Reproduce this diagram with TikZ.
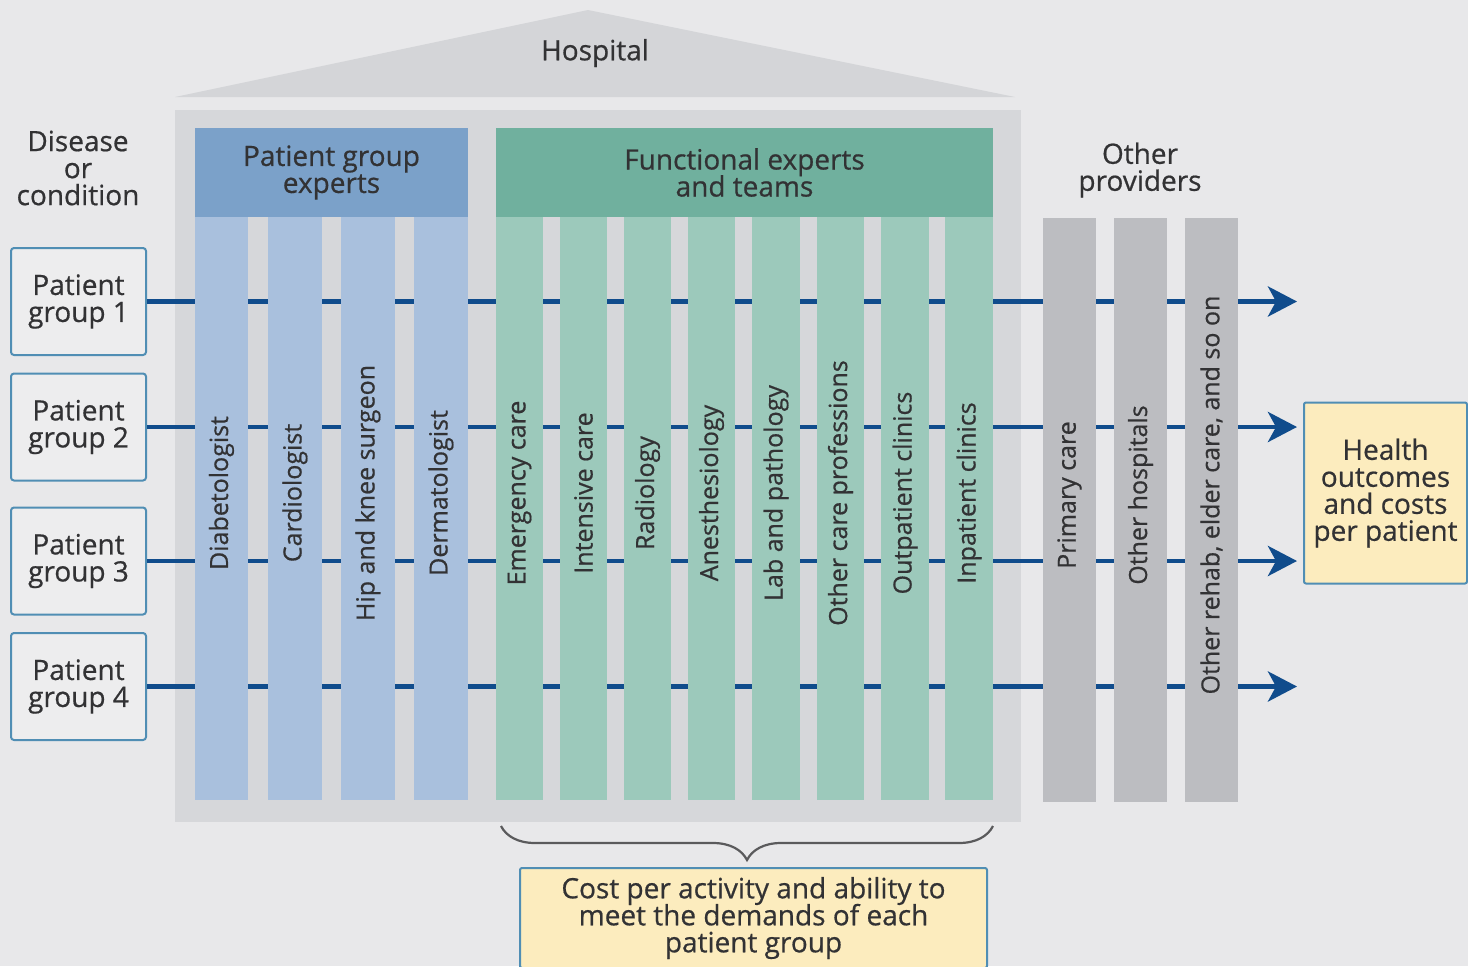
\documentclass[tikz,border=0pt]{standalone}
\usepackage{fontspec}
\setmainfont{Open Sans}[FakeBold=0.6]
\usetikzlibrary{arrows.meta,decorations.pathreplacing}

\definecolor{bgc}{RGB}{232,232,234}
\definecolor{roofc}{RGB}{212,213,216}
\definecolor{bodyc}{RGB}{214,215,218}
\definecolor{blueHead}{RGB}{123,161,201}
\definecolor{blueCol}{RGB}{169,192,221}
\definecolor{greenHead}{RGB}{112,176,158}
\definecolor{greenCol}{RGB}{156,201,187}
\definecolor{grayCol}{RGB}{188,189,193}
\definecolor{flowc}{RGB}{16,76,140}
\definecolor{boxline}{RGB}{80,142,180}
\definecolor{boxfill}{RGB}{237,237,238}
\definecolor{notefill}{RGB}{252,236,190}
\definecolor{ink}{RGB}{50,50,52}
\definecolor{bracec}{RGB}{90,90,92}

\begin{document}
\setlength{\lineskiplimit}{-20pt}
\begin{tikzpicture}[x=0.5pt,y=-0.5pt,
  every node/.style={text=ink, inner sep=0pt, align=center,
    font=\fontsize{14}{13.5}\selectfont},
  group/.style={draw=boxline, line width=1pt, fill=boxfill, rounded corners=1.5pt,
    minimum width=67.5pt, minimum height=53.5pt},
  note/.style={draw=boxline, line width=1pt, fill=notefill, rounded corners=1pt},
  header/.style={minimum height=44.5pt},
  barlabel/.style={rotate=90, font=\fontsize{12.5}{13}\selectfont},
  flow/.style={draw=flowc, line width=2.4pt,
    -{Stealth[length=14.5pt,width=15pt,inset=4pt]}},
  ]
\useasboundingbox (0,0) rectangle (1468,966);
\clip (0,0) rectangle (1468,966);
\fill[bgc] (0,0) rectangle (1468,966);

% hospital roof and body
\fill[roofc] (175,97) -- (588,10) -- (1015,97) -- cycle;
\fill[bodyc] (175,110) rectangle (1021,822);
\node (hosp) at (595,53) {Hospital};

% column group headers
\node[header, fill=blueHead, minimum width=136.5pt] (pgx) at (331.5,172.5) {Patient group\\experts};
\node[header, fill=greenHead, minimum width=248.5pt] (fx) at (744.5,172.5) {Functional experts\\and teams};
\node (others) at (1140,170) {Other\\providers};
\node (disease) at (78,168) {Disease\\or\\condition};

% patient groups
\node[group] (pg1) at (78.5,301.5) {Patient\\group 1};
\node[group] (pg2) at (78.5,427) {Patient\\group 2};
\node[group] (pg3) at (78.5,561) {Patient\\group 3};
\node[group] (pg4) at (78.5,686.5) {Patient\\group 4};

% outcome boxes
\node[note, minimum width=81.5pt, minimum height=90.5pt] (outcome) at (1385.5,493)
  {Health\\outcomes\\and costs\\per patient};
\node[note, minimum width=233.5pt, minimum height=50pt] (cost) at (753.5,918)
  {Cost per activity and ability to\\meet the demands of each\\patient group};

% patient flows (drawn beneath the columns)
\coordinate (end1) at (1297,301.5);
\coordinate (end2) at (1297,427);
\coordinate (end3) at (1297,561);
\coordinate (end4) at (1297,686.5);
\foreach \i in {1,...,4}{
  \draw[flow] (pg\i.east) -- (end\i);
}

% patient group experts
\foreach \a/\b/\t [count=\i] in {195/248/Diabetologist, 268/322/Cardiologist,
    341/395/Hip and knee surgeon, 414/468/Dermatologist}{
  \pgfmathsetmacro\m{(\a+\b)/2}
  \fill[blueCol] (\a,217) rectangle (\b,800);
  \node[barlabel] (pge\i) at (\m,493) {\t};
}

% functional experts and teams
\foreach \a/\b/\t [count=\i] in {496/543/Emergency care, 560/607/Intensive care,
    624/671/Radiology, 688/735/Anesthesiology, 752/800/Lab and pathology,
    817/864/Other care professions, 881/929/Outpatient clinics, 945/993/Inpatient clinics}{
  \pgfmathsetmacro\m{(\a+\b)/2}
  \fill[greenCol] (\a,217) rectangle (\b,800);
  \node[barlabel] (fe\i) at (\m,493) {\t};
}

% other providers
\foreach \a/\b/\t [count=\i] in {1043/1096/Primary care, 1114/1167/Other hospitals,
    1185/1238/{Other rehab, elder care, and so on}}{
  \pgfmathsetmacro\m{(\a+\b)/2}
  \fill[grayCol] (\a,218) rectangle (\b,802);
  \node[barlabel] (op\i) at (\m,495) {\t};
}

% brace over the functional columns
\coordinate (brl) at (501,826);
\coordinate (brr) at (993,826);
\draw[bracec, line width=1.1pt, decorate, decoration={brace, amplitude=17pt, mirror}] (brl) -- (brr);
\end{tikzpicture}
\end{document}
